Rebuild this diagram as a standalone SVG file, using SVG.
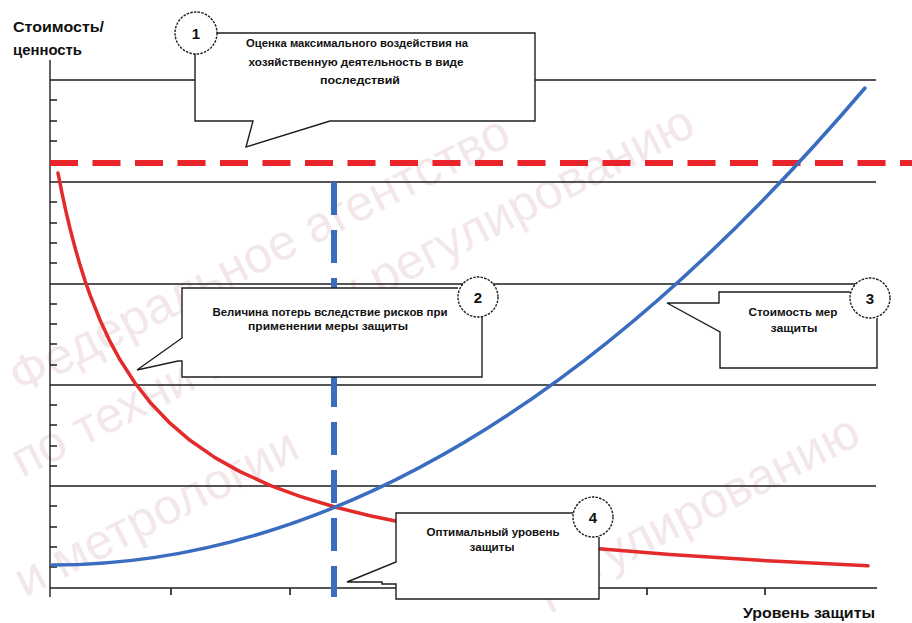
<svg xmlns="http://www.w3.org/2000/svg" width="912" height="623" viewBox="0 0 912 623">
<style>
.wm{font-family:"Liberation Sans",Arial,sans-serif;font-size:50px;fill:#f0dde0;opacity:0.7}
.grid{stroke:#1e1e1e;stroke-width:1.4;fill:none}
.tick{stroke:#1e1e1e;stroke-width:1.6}
.box{fill:#fff;stroke:#1e1e1e;stroke-width:1.4;stroke-linejoin:miter}
.circ{fill:#fff;stroke:#1e1e1e;stroke-width:1.4;stroke-dasharray:2.5 1.2}
.num{font-family:"Liberation Sans",Arial,sans-serif;font-weight:bold;font-size:15px;fill:#111;text-anchor:middle}
.ct{font-family:"Liberation Sans",Arial,sans-serif;font-weight:bold;font-size:10.5px;fill:#111;text-anchor:middle}
.ax{font-family:"Liberation Sans",Arial,sans-serif;font-weight:bold;font-size:14px;fill:#111}
</style>
<rect width="912" height="623" fill="#fff"/>
<g id="watermark">
<text class="wm" transform="translate(20,395) rotate(-27)">Федеральное агентство</text>
<text class="wm" transform="translate(22,478) rotate(-27)">по техническому регулированию</text>
<text class="wm" transform="translate(25,598) rotate(-27)">и метрологии</text>
<text class="wm" transform="translate(545,605) rotate(-27)">регулированию</text>
</g>
<g id="axes">
<line class="grid" x1="50" y1="60" x2="50" y2="597"/>
<line class="grid" x1="50" y1="588" x2="877" y2="588"/>
<path class="grid" d="M50,80H876M50,182H876M50,284H876M50,385H876M50,486H876"/>
<path class="tick" d="M50,100h7M50,121h7M50,141h7M50,162h7M50,202h7M50,223h7M50,243h7M50,263h7M50,304h7M50,324h7M50,344h7M50,365h7M50,405h7M50,425h7M50,446h7M50,466h7M50,506h7M50,527h7M50,547h7M50,567h7"/>
<path class="tick" d="M171,588v7M290,588v7M409,588v7M528,588v7M647,588v7M765,588v7"/>
<text class="ax" x="13" y="32" textLength="91" lengthAdjust="spacingAndGlyphs">Стоимость/</text>
<text class="ax" x="13" y="55" textLength="69" lengthAdjust="spacingAndGlyphs">ценность</text>
<text class="ax" x="743" y="618" textLength="132" lengthAdjust="spacingAndGlyphs">Уровень защиты</text>
</g>
<g id="connectors">
<line x1="50" y1="163" x2="912" y2="163" stroke="#e8232a" stroke-width="6" stroke-dasharray="28 14.5"/>
<line x1="334" y1="182" x2="334" y2="597" stroke="#3a6cc0" stroke-width="6" stroke-dasharray="33 15"/>
<polyline fill="none" stroke="#e32b2b" stroke-width="3.5" stroke-linejoin="round" stroke-linecap="round" points="58,173 62,193.2 66,211.7 70,228.5 75,247.6 80,264.9 85,280.6 90,294.9 100,320 110,341.4 120,359.8 135,383 150,402.2 170,423.2 190,440.3 215,457.6 240,471.6 270,485.3 300,496.4 335,507 370,515.8 410,524 460,532.4 520,540.5 590,547.9 670,554.5 760,560.3 868,565.8"/>
<path d="M52,565 Q458.5,565 865,88" fill="none" stroke="#3a6cc0" stroke-width="3.5" stroke-linecap="round"/>
</g>
<g id="callout1">
<path class="box" d="M216,33H535V121H330L246,147L253,121H195V54"/>
<circle class="circ" cx="196" cy="33" r="21"/>
<text class="num" x="196" y="39">1</text>
<text class="ct" x="357" y="47" textLength="222" lengthAdjust="spacingAndGlyphs">Оценка максимального воздействия на</text>
<text class="ct" x="356" y="66" textLength="215" lengthAdjust="spacingAndGlyphs">хозяйственную деятельность в виде</text>
<text class="ct" x="360" y="84" textLength="80" lengthAdjust="spacingAndGlyphs">последствий</text>
</g>
<g id="callout2">
<path class="box" d="M458,288H182V338L137,370L178,361H182V377H482V316"/>
<circle class="circ" cx="478" cy="297" r="20"/>
<text class="num" x="478" y="303">2</text>
<text class="ct" x="330" y="316" textLength="235" lengthAdjust="spacingAndGlyphs">Величина потерь вследствие рисков при</text>
<text class="ct" x="328" y="330" textLength="160" lengthAdjust="spacingAndGlyphs">применении меры защиты</text>
</g>
<g id="callout3">
<path class="box" d="M850,292H719V303H667L720,332V368H877V318"/>
<circle class="circ" cx="870" cy="298" r="20"/>
<text class="num" x="870" y="304">3</text>
<text class="ct" x="793" y="316" textLength="89" lengthAdjust="spacingAndGlyphs">Стоимость мер</text>
<text class="ct" x="794" y="332" textLength="47" lengthAdjust="spacingAndGlyphs">защиты</text>
</g>
<g id="callout4">
<path class="box" d="M573,513H396V562L347,582H382V584H396V599H599V537"/>
<circle class="circ" cx="593" cy="517" r="20"/>
<text class="num" x="593" y="523">4</text>
<text class="ct" x="493" y="536" textLength="133" lengthAdjust="spacingAndGlyphs">Оптимальный уровень</text>
<text class="ct" x="492" y="551" textLength="45" lengthAdjust="spacingAndGlyphs">защиты</text>
</g>
</svg>
